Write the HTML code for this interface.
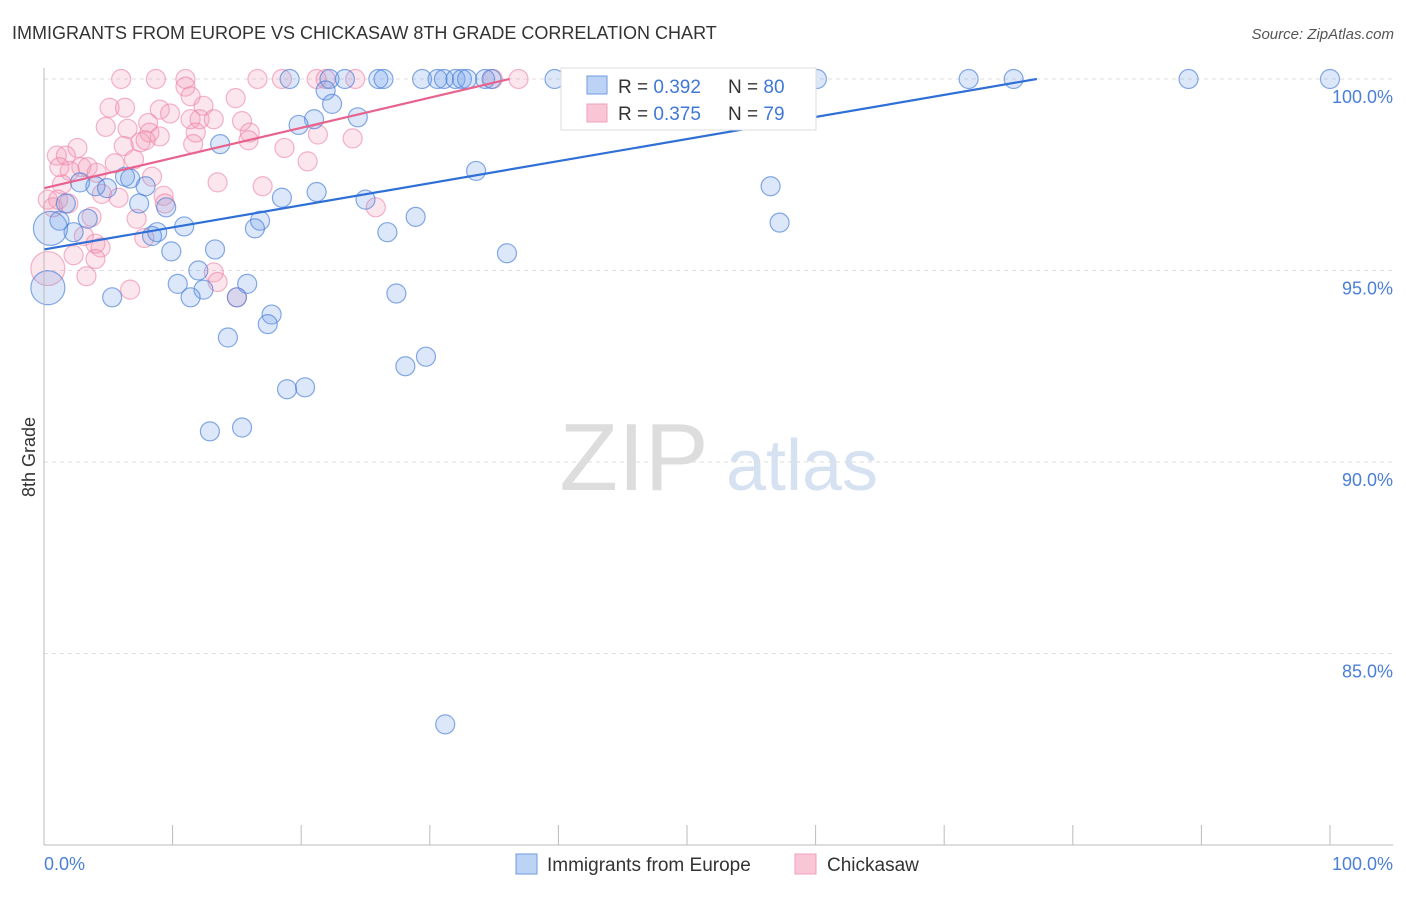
<!DOCTYPE html>
<html><head><meta charset="utf-8"><style>
body{margin:0;background:#fff;font-family:"Liberation Sans",sans-serif}
svg text{font-family:"Liberation Sans",sans-serif}
</style></head><body>
<svg id="chart" width="1406" height="892" xmlns="http://www.w3.org/2000/svg">
<text x="12" y="39" font-size="18" fill="#333">IMMIGRANTS FROM EUROPE VS CHICKASAW 8TH GRADE CORRELATION CHART</text>
<text x="1394" y="39" font-size="15" fill="#555" text-anchor="end" font-style="italic">Source: ZipAtlas.com</text>
<text x="35" y="457" font-size="18" fill="#333" text-anchor="middle" transform="rotate(-90 35 457)">8th Grade</text>
<g><text x="634" y="490" font-size="96" fill="#ddd" font-family="Liberation Serif" text-anchor="middle">ZIP</text><text x="802" y="490" font-size="72" fill="#d6e2f2" text-anchor="middle">atlas</text></g>
<g id="grid"></g><g id="pts"></g><g id="lines"></g>
<line x1="44" y1="68" x2="44" y2="845" stroke="#bbb"/>
<line x1="44" y1="845" x2="1393" y2="845" stroke="#bbb"/>
<text x="44" y="870" font-size="18" fill="#4a7fd6">0.0%</text>
<text x="1393" y="870" font-size="18" fill="#4a7fd6" text-anchor="end">100.0%</text>
<g>
<rect x="561" y="68" width="255" height="62" fill="#fff" stroke="#ddd"/>
<rect x="587" y="76" width="20" height="18" fill="#bcd3f5" stroke="#6f9be0"/>
<text x="618" y="93" font-size="19" fill="#333">R = <tspan fill="#3f78d6">0.392</tspan></text>
<text x="728" y="93" font-size="19" fill="#333">N = <tspan fill="#3f78d6">80</tspan></text>
<rect x="587" y="104" width="20" height="18" fill="#f9c6d6" stroke="#f0a0b8"/>
<text x="618" y="120" font-size="19" fill="#333">R = <tspan fill="#3f78d6">0.375</tspan></text>
<text x="728" y="120" font-size="19" fill="#333">N = <tspan fill="#3f78d6">79</tspan></text>
</g>
<g>
<rect x="516" y="854" width="21" height="20" fill="#bcd3f5" stroke="#6f9be0"/>
<text x="547" y="871" font-size="19" fill="#333">Immigrants from Europe</text>
<rect x="795" y="854" width="21" height="20" fill="#f9c6d6" stroke="#f0a0b8"/>
<text x="827" y="871" font-size="19" fill="#333">Chickasaw</text>
</g>
</svg>
<script>
const yTicks=[100,95,90,85];
const yTickLabels=["100.0%","95.0%","90.0%","85.0%"];
const xTicks=[0,10,20,30,40,50,60,70,80,90,100];
const blueX=[19.1,22.2,23.4,26.0,26.4,29.4,30.6,31.1,32.0,32.5,32.9,34.3,34.8,39.7,47.9,55.1,60.1,71.9,75.4,89.0,100,21.9,22.4,24.4,21.0,19.8,13.7,33.6,56.5,4.0,4.9,6.3,7.9,2.8,6.7,18.5,21.2,25.0,28.9,9.5,7.4,1.7,16.8,16.4,10.9,8.8,8.4,2.3,3.4,26.7,57.2,1.2,9.9,13.3,36.0,12.0,10.4,15.8,12.4,11.4,5.3,15.0,27.4,17.7,17.4,14.3,29.7,28.1,18.9,20.3,12.9,15.4,31.2,0.5,0.3];
const blueY=[100,100,100,100,100,100,100,100,100,100,100,100,100,100,100,100,100,100,100,100,100,99.7,99.35,99.0,98.95,98.8,98.3,97.6,97.2,97.2,97.15,97.45,97.2,97.3,97.4,96.9,97.05,96.85,96.4,96.65,96.75,96.75,96.3,96.1,96.15,96.0,95.9,96.0,96.35,96.0,96.25,96.3,95.5,95.55,95.45,95.0,94.65,94.65,94.5,94.3,94.3,94.3,94.4,93.85,93.6,93.25,92.75,92.5,91.9,91.95,90.8,90.9,83.15,96.1,94.55];
const blueBig=[73,74];
const pinkX=[6.0,8.7,11.0,16.6,18.5,21.2,21.9,24.2,34.9,36.9,11.0,11.4,14.9,5.1,6.3,12.4,9.0,9.8,4.8,6.5,8.1,11.4,12.1,15.4,13.2,8.2,9.0,11.8,16.0,21.3,24.0,7.5,6.2,11.6,15.9,18.7,2.6,1.0,1.7,7.0,20.5,2.9,3.4,5.5,4.1,2.0,8.4,13.5,17.0,1.4,4.5,9.3,1.1,0.3,0.7,1.9,3.7,7.2,7.8,3.1,4.0,4.4,2.3,4.0,13.2,13.5,3.3,6.7,15.0,25.8,9.4,5.8,7.9,1.2,0.3];
const pinkY=[100,100,100,100,100,100,100,100,100,100,99.8,99.55,99.5,99.25,99.25,99.3,99.2,99.1,98.75,98.7,98.85,98.95,98.95,98.9,98.95,98.6,98.5,98.6,98.6,98.55,98.45,98.35,98.25,98.3,98.4,98.2,98.2,98.0,98.0,97.9,97.85,97.7,97.7,97.8,97.55,97.6,97.45,97.3,97.2,97.25,97.0,96.95,96.85,96.85,96.65,96.75,96.4,96.35,95.85,95.9,95.7,95.6,95.4,95.3,94.95,94.7,94.85,94.5,94.3,96.65,96.75,96.9,98.4,97.7,95.05];
const pinkBig=[74];
const blueLine=[[0,95.55],[77.2,100]];
const pinkLine=[[0,97.15],[36.2,100]];
const X=v=>44+v*12.86, Y=v=>79+(100-v)*38.3;
const NS="http://www.w3.org/2000/svg";
const mk=(t,a,p)=>{const e=document.createElementNS(NS,t);for(const k in a)e.setAttribute(k,a[k]);p.appendChild(e);return e;};
const grid=document.getElementById('grid'),pts=document.getElementById('pts'),lines=document.getElementById('lines'),svg=document.getElementById('chart');
yTicks.forEach((t,i)=>{
 const g=mk('line',{x1:44,x2:1393,y1:Y(t),y2:Y(t),stroke:'#ddd','stroke-dasharray':'4,4'},grid);
 
 
 const tx=mk('text',{x:1393,y:Y(t)+24,'font-size':18,fill:'#4a7fd6','text-anchor':'end'},svg);
 tx.textContent=yTickLabels[i];
 
 
});
xTicks.forEach(t=>{
 const l=mk('line',{x1:X(t),x2:X(t),y1:825,y2:845,stroke:'#bbb'},grid);
 
 
});
function draw(xs,ys,big,fill,stroke,name){
 xs.forEach((x,i)=>{
  const r=big.includes(i)?17:9.5;
  const c=mk('circle',{cx:X(x),cy:Y(ys[i]),r:r,fill:fill,stroke:stroke,'stroke-width':1.2},pts);
  
  
 });
}
draw(pinkX,pinkY,pinkBig,'rgba(244,150,180,0.24)','rgba(236,130,165,0.6)','chickasaw-point');
draw(blueX,blueY,blueBig,'rgba(110,160,235,0.24)','rgba(70,125,215,0.65)','europe-point');
const bl=mk('line',{x1:X(blueLine[0][0]),y1:Y(blueLine[0][1]),x2:X(blueLine[1][0]),y2:Y(blueLine[1][1]),stroke:'#2f6fd6','stroke-width':2.2},lines);


const pl=mk('line',{x1:X(pinkLine[0][0]),y1:Y(pinkLine[0][1]),x2:X(pinkLine[1][0]),y2:Y(pinkLine[1][1]),stroke:'#e8628e','stroke-width':2.2},lines);


</script>
</body></html>
